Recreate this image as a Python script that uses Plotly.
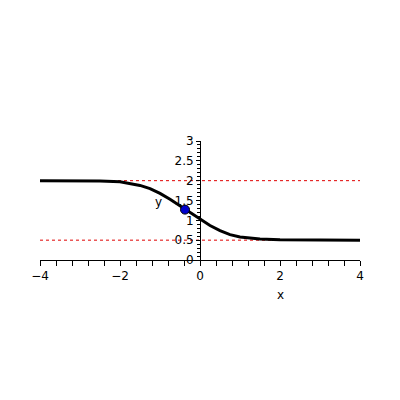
import plotly.graph_objects as go

# curve
x_vals = [-4, -3, -2.5, -2, -1.5, -1.25, -1, -0.75, -0.5, -0.25, 0, 0.25, 0.5, 0.75, 1, 1.25, 1.5, 2, 3, 4]
y_vals = [2.0, 2.0, 1.99, 1.97, 1.88, 1.80, 1.68, 1.53, 1.36, 1.19, 1.02, 0.87, 0.74, 0.64, 0.58, 0.55, 0.53, 0.51, 0.5, 0.5]

# asymptotes
asym_levels = [2.0, 0.5]
x_range = [-4, 4]
y_range = [0, 3]

# marked point
pt_x = [-0.375]
pt_y = [1.27]

font = "DejaVu Sans"

fig = go.Figure()
for lvl in asym_levels:
    fig.add_trace(go.Scatter(x=x_range, y=[lvl, lvl], mode="lines",
                             line=dict(color="#e00000", width=1, dash="3px,3px"),
                             hoverinfo="skip", showlegend=False))
fig.add_trace(go.Scatter(x=x_vals, y=y_vals, mode="lines",
                         line=dict(color="black", width=3),
                         showlegend=False))
fig.add_trace(go.Scatter(x=pt_x, y=pt_y, mode="markers",
                         marker=dict(color="#0000cc", size=9, line=dict(color="black", width=1)),
                         showlegend=False))

fig.update_layout(
    width=400, height=400,
    margin=dict(l=32, r=48, t=133, b=148),
    paper_bgcolor="white", plot_bgcolor="white",
    font=dict(family=font, size=12, color="black"),
    xaxis=dict(range=x_range, showgrid=False, zeroline=False, showline=True,
               linecolor="black", linewidth=1, ticks="outside", ticklen=5,
               tickcolor="black", dtick=2, tick0=0,
               minor=dict(dtick=0.4, tick0=0, ticks="outside", ticklen=5, tickcolor="black"),
               tickfont=dict(family=font, size=12)),
    yaxis=dict(range=y_range, showgrid=False, zeroline=False, showline=True,
               linecolor="black", linewidth=1, ticks="outside", ticklen=4,
               tickcolor="black", dtick=0.5, tick0=0,
               minor=dict(dtick=0.1, tick0=0, ticks="outside", ticklen=3, tickcolor="black"),
               anchor="free", position=0.5, side="left",
               tickfont=dict(family=font, size=12)),
    annotations=[
        dict(text="x", x=2.0, y=-0.29, xref="x", yref="paper", yanchor="middle",
             showarrow=False, font=dict(family=font, size=12)),
        dict(text="y", x=-1.05, y=1.46, xref="x", yref="y",
             showarrow=False, font=dict(family=font, size=12)),
    ],
)

fig.write_html("out.html")
